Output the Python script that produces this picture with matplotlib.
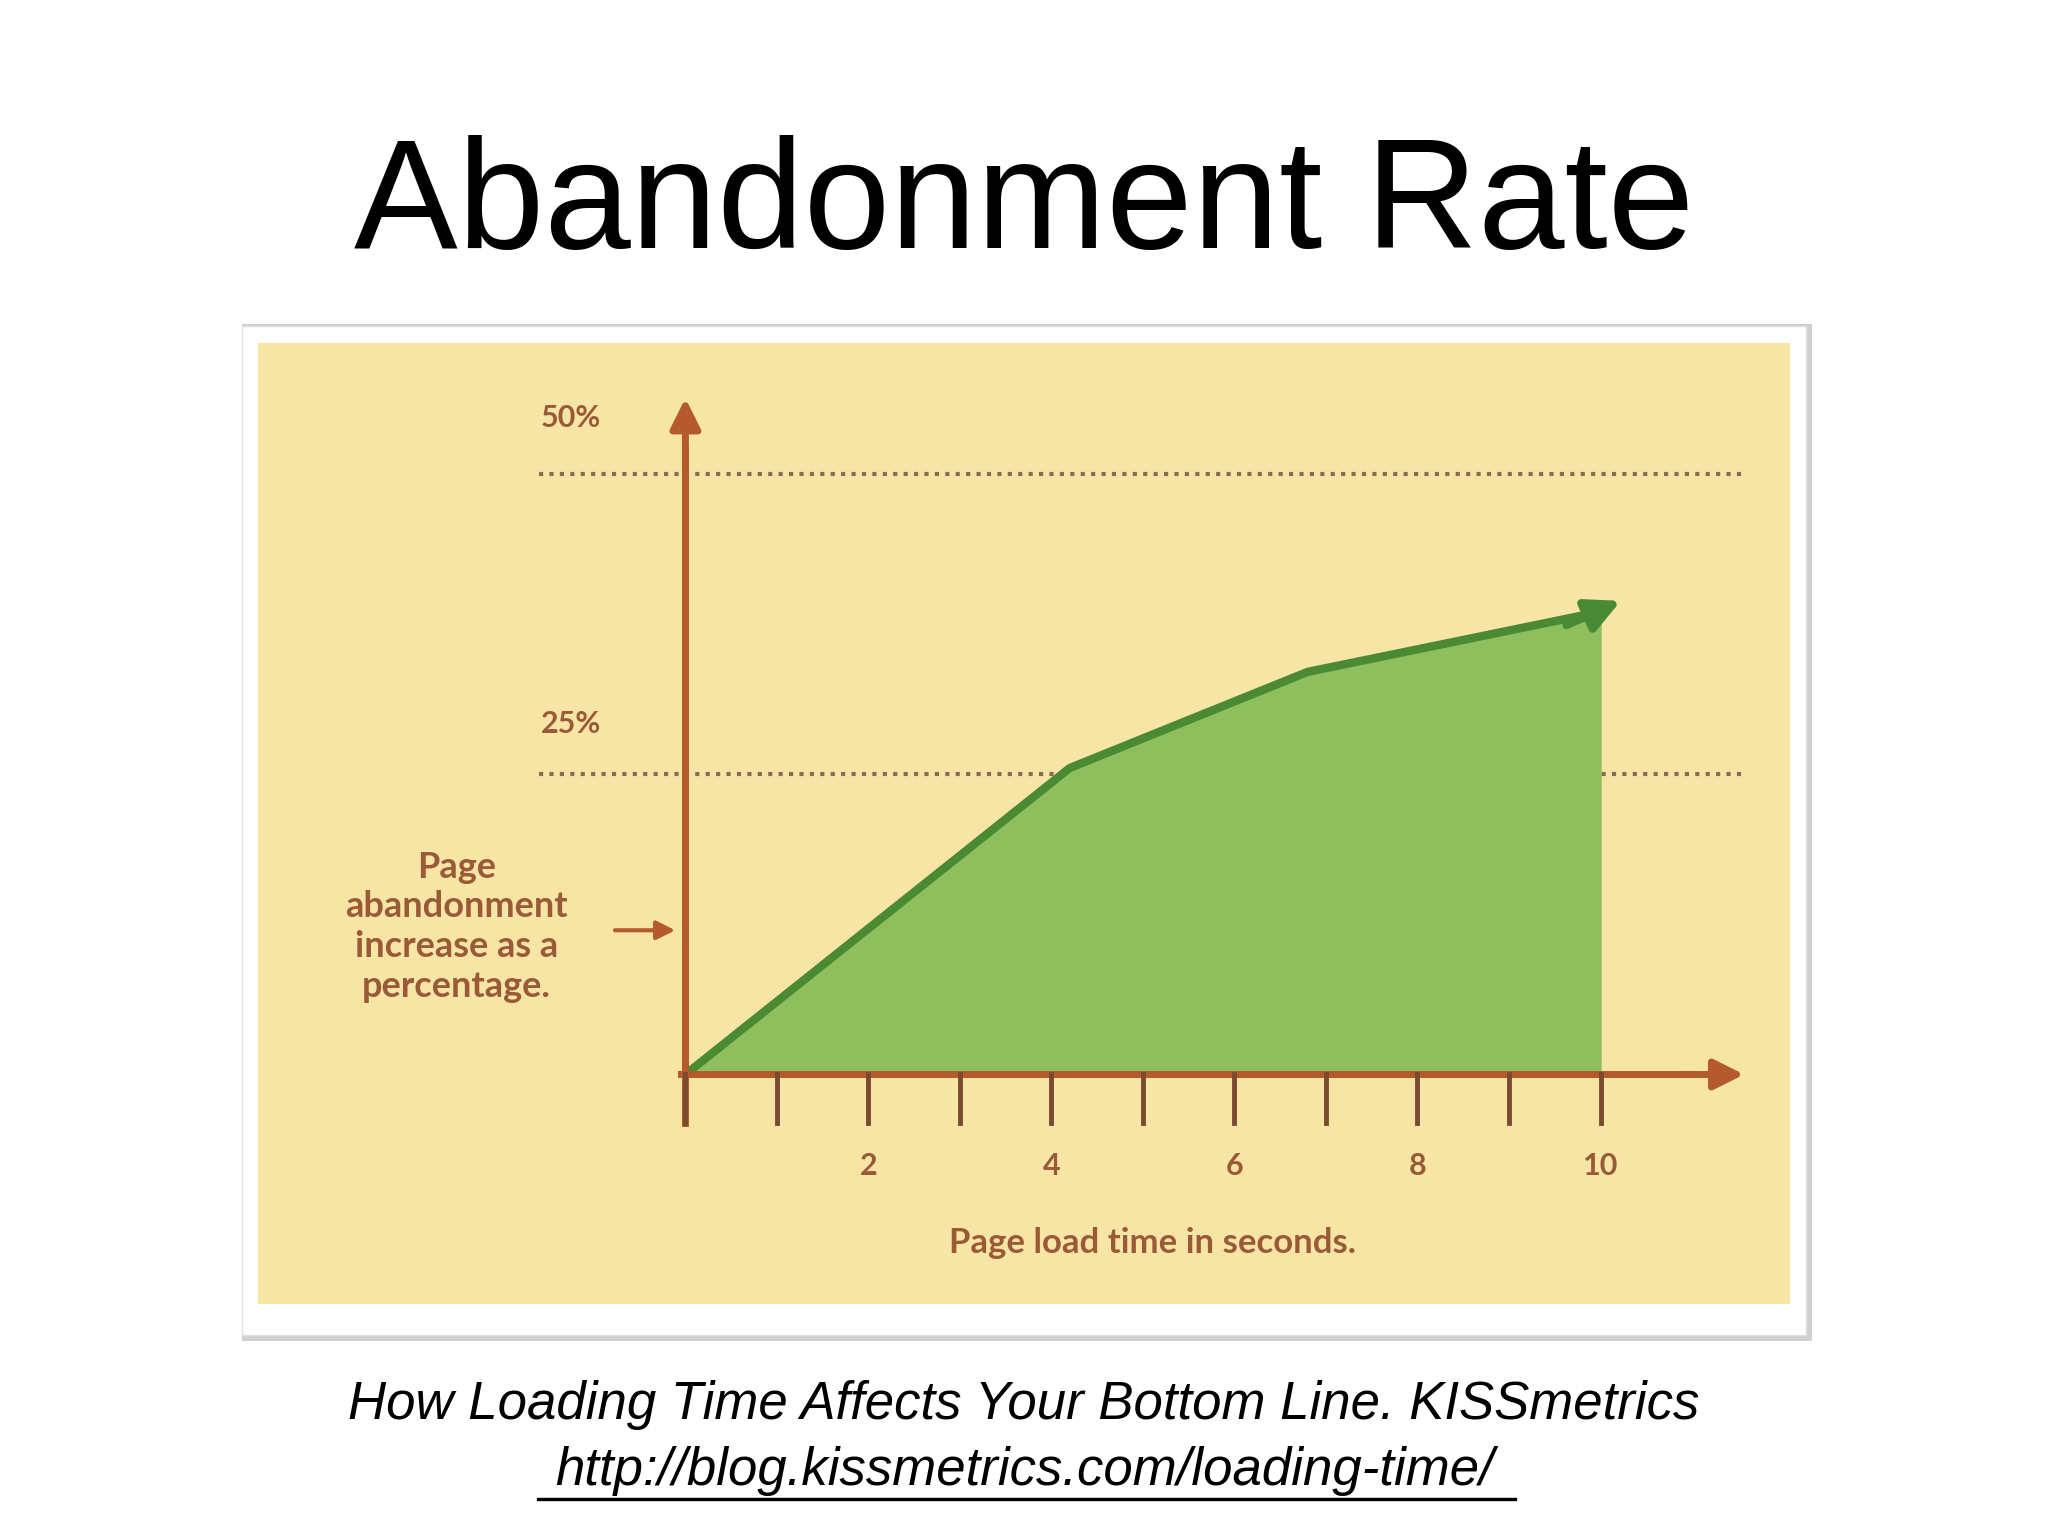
import matplotlib
matplotlib.use("Agg")
import matplotlib.pyplot as plt
from matplotlib.patches import Rectangle

load_time = [0, 4.2, 6.8, 10]
abandon_pct = [0, 25.5, 33.5, 38.5]
tick_labels = [2, 4, 6, 8, 10]
grid_levels = [25, 50]

brown = "#b45a2c"
text_brown = "#9a5a38"
green_fill = "#8fbf5c"
green_line = "#4a8a35"

fig = plt.figure(figsize=(20.48, 15.36), dpi=100)
fig.patch.set_facecolor("white")

fig.text(0.5, 0.865, "Abandonment Rate", ha="center", va="center",
         fontsize=112, family="Liberation Sans", color="black")
fig.text(0.5, 0.085, "How Loading Time Affects Your Bottom Line. KISSmetrics",
         ha="center", va="center", fontsize=38, style="italic", family="Liberation Sans")
fig.text(0.5, 0.042, "http://blog.kissmetrics.com/loading-time/",
         ha="center", va="center", fontsize=38, style="italic", family="Liberation Sans")
fig.add_artist(Rectangle((0.262, 0.0235), 0.478, 0.0013, transform=fig.transFigure,
                         color="black", zorder=1))

# card shadow + card
fig.add_artist(Rectangle((0.118, 0.127), 0.767, 0.662, transform=fig.transFigure,
                         facecolor="#d0d0d0", edgecolor="none", zorder=0))
fig.add_artist(Rectangle((0.118, 0.131), 0.764, 0.657, transform=fig.transFigure,
                         facecolor="white", edgecolor="#e0e0e0", zorder=0))

ax = fig.add_axes([0.126, 0.151, 0.748, 0.626])
ax.set_facecolor("#f7e5a6")
ax.set_xlim(-4.67, 12.07)
ax.set_ylim(-19.1, 60.9)
for s in ax.spines.values():
    s.set_visible(False)
ax.set_xticks([]); ax.set_yticks([])

for lv in grid_levels:
    ax.plot([-1.6, 11.6], [lv, lv], ls=(0, (1, 1.5)), color="#8a6a50", lw=3)

ax.fill_between(load_time, abandon_pct, 0, color=green_fill, zorder=2)
ax.plot(load_time, abandon_pct, color=green_line, lw=6, zorder=3, solid_capstyle="round")
ax.annotate("", xy=(10.25, 39.5), xytext=(9.6, 37.3),
            arrowprops=dict(arrowstyle="-|>", color=green_line, lw=6, mutation_scale=50),
            zorder=4)

# axes
ax.plot([0, 0], [-4, 52], color=brown, lw=5, zorder=5)
ax.annotate("", xy=(0, 56.5), xytext=(0, 50),
            arrowprops=dict(arrowstyle="-|>", color=brown, lw=5, mutation_scale=45), zorder=5)
ax.plot([-0.05, 11.0], [0, 0], color=brown, lw=5, zorder=5)
ax.annotate("", xy=(11.6, 0), xytext=(10.8, 0),
            arrowprops=dict(arrowstyle="-|>", color=brown, lw=5, mutation_scale=45), zorder=5)
for t in range(0, 11):
    ax.plot([t, t], [0, -4], color="#7a4a30", lw=3.5, zorder=5)
for t in tick_labels:
    ax.text(t, -7.6, str(t), ha="center", va="center", fontsize=22, weight="bold",
            color=text_brown, family="Lato")
ax.text(5.1, -14.0, "Page load time in seconds.", ha="center", va="center", fontsize=25,
        weight="bold", color=text_brown, family="Lato")
ax.text(-1.25, 54.6, "50%", ha="center", va="center", fontsize=22, weight="bold",
        color=text_brown, family="Lato")
ax.text(-1.25, 29.2, "25%", ha="center", va="center", fontsize=22, weight="bold",
        color=text_brown, family="Lato")
ax.text(-2.5, 12.3, "Page\nabandonment\nincrease as a\npercentage.", ha="center",
        va="center", fontsize=26, weight="bold", color=text_brown, family="Lato",
        linespacing=1.25)
ax.annotate("", xy=(-0.08, 12.0), xytext=(-0.8, 12.0),
            arrowprops=dict(arrowstyle="-|>", color=brown, lw=3, mutation_scale=28), zorder=5)

fig.savefig("out.png", dpi=100)
